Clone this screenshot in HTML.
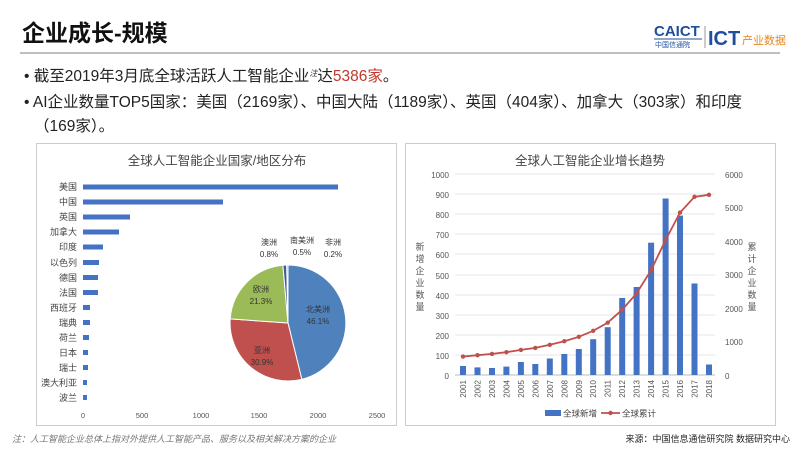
<!DOCTYPE html>
<html><head><meta charset="utf-8"><style>
body{margin:0;width:800px;height:450px;background:#fff;font-family:"Liberation Sans","Noto Sans CJK SC",sans-serif;overflow:hidden}
</style></head><body>
<svg width="800" height="450" xmlns="http://www.w3.org/2000/svg" font-family="Liberation Sans, Noto Sans CJK SC, sans-serif">
<text x="22" y="41" font-size="23" font-weight="bold" fill="#111">企业成长-规模</text>
<line x1="20" y1="53" x2="780" y2="53" stroke="#aaa" stroke-width="1.5"/>
<text x="654" y="36" font-size="15" font-weight="bold" fill="#1f4e9c">CAICT</text>
<line x1="654" y1="39" x2="702" y2="39" stroke="#1f4e9c"/>
<text x="655" y="47" font-size="7" fill="#1f4e9c">中国信通院</text>
<line x1="705" y1="26" x2="705" y2="48" stroke="#999"/>
<text x="708" y="45" font-size="20" font-weight="bold" fill="#1f4e9c">ICT</text>
<text x="742" y="44" font-size="11" fill="#e8871e">产业数据</text>
<g font-size="15.5" fill="#222">
<text x="24" y="81">• 截至2019年3月底全球活跃人工智能企业<tspan font-size="8" dy="-5" font-style="italic">注</tspan><tspan dy="5">达</tspan><tspan fill="#c0392b">5386家</tspan>。</text>
<text x="24" y="107">• AI企业数量TOP5国家：美国（2169家）、中国大陆（1189家）、英国（404家）、加拿大（303家）和印度</text>
<text x="34" y="131">（169家）。</text>
</g>
<rect x="36.5" y="143.5" width="360" height="282" fill="#fff" stroke="#ccc"/>
<rect x="405.5" y="143.5" width="370" height="282" fill="#fff" stroke="#ccc"/>
<text x="217" y="165" font-size="12.5" fill="#444" text-anchor="middle">全球人工智能企业国家/地区分布</text>
<g font-size="9" fill="#444" text-anchor="end">
<text x="77" y="190">美国</text><text x="77" y="205">中国</text><text x="77" y="220">英国</text><text x="77" y="235">加拿大</text><text x="77" y="250">印度</text><text x="77" y="266">以色列</text><text x="77" y="281">德国</text><text x="77" y="296">法国</text><text x="77" y="311">西班牙</text><text x="77" y="326">瑞典</text><text x="77" y="341">荷兰</text><text x="77" y="356">日本</text><text x="77" y="371">瑞士</text><text x="77" y="386">澳大利亚</text><text x="77" y="401">波兰</text>
</g>
<g fill="#4472c4">
<rect x="83" y="184.5" width="255" height="5"/><rect x="83" y="199.5" width="140" height="5"/><rect x="83" y="214.5" width="47" height="5"/><rect x="83" y="229.5" width="36" height="5"/><rect x="83" y="244.5" width="20" height="5"/><rect x="83" y="260" width="16" height="5"/><rect x="83" y="275" width="15" height="5"/><rect x="83" y="290" width="15" height="5"/><rect x="83" y="305" width="7" height="5"/><rect x="83" y="320" width="7" height="5"/><rect x="83" y="335" width="6" height="5"/><rect x="83" y="350" width="5" height="5"/><rect x="83" y="365" width="5" height="5"/><rect x="83" y="380" width="4" height="5"/><rect x="83" y="395" width="4" height="5"/>
</g>
<g font-size="7.5" fill="#555" text-anchor="middle">
<text x="83" y="418">0</text><text x="142" y="418">500</text><text x="201" y="418">1000</text><text x="259" y="418">1500</text><text x="318" y="418">2000</text><text x="377" y="418">2500</text>
</g>
<g stroke="#fff" stroke-width="1">
<path d="M288,323 L288,265 A58,58 0 0 1 301.8,379.3 Z" fill="#4f81bd"/>
<path d="M288,323 L301.8,379.3 A58,58 0 0 1 230.2,318.9 Z" fill="#c0504d"/>
<path d="M288,323 L230.2,318.9 A58,58 0 0 1 282.9,265.2 Z" fill="#9bbb59"/>
<path d="M288,323 L282.9,265.2 A58,58 0 0 1 286.7,265 Z" fill="#3e5d9a"/>
<path d="M288,323 L286.7,265 A58,58 0 0 1 288,265 Z" fill="#8064a2"/>
</g>
<g font-size="8" fill="#333" text-anchor="middle">
<text x="318" y="312">北美洲</text><text x="318" y="324">46.1%</text>
<text x="262" y="353">亚洲</text><text x="262" y="365">30.9%</text>
<text x="261" y="292">欧洲</text><text x="261" y="304">21.3%</text>
<text x="269" y="245">澳洲</text><text x="269" y="257">0.8%</text>
<text x="302" y="243">南美洲</text><text x="302" y="255">0.5%</text>
<text x="333" y="245">非洲</text><text x="333" y="257">0.2%</text>
</g>
<text x="590" y="165" font-size="12.5" fill="#444" text-anchor="middle">全球人工智能企业增长趋势</text>
<g stroke="#e4e4e4">
<line x1="455" y1="174" x2="715" y2="174"/><line x1="455" y1="194" x2="715" y2="194"/><line x1="455" y1="214" x2="715" y2="214"/><line x1="455" y1="234" x2="715" y2="234"/><line x1="455" y1="254" x2="715" y2="254"/><line x1="455" y1="275" x2="715" y2="275"/><line x1="455" y1="295" x2="715" y2="295"/><line x1="455" y1="315" x2="715" y2="315"/><line x1="455" y1="335" x2="715" y2="335"/><line x1="455" y1="355" x2="715" y2="355"/>
</g>
<line x1="455" y1="375" x2="715" y2="375" stroke="#bbb"/>
<g font-size="8" fill="#555" text-anchor="end">
<text x="449" y="178">1000</text><text x="449" y="198">900</text><text x="449" y="218">800</text><text x="449" y="238">700</text><text x="449" y="258">600</text><text x="449" y="279">500</text><text x="449" y="299">400</text><text x="449" y="319">300</text><text x="449" y="339">200</text><text x="449" y="359">100</text><text x="449" y="379">0</text>
</g>
<g font-size="8" fill="#555">
<text x="725" y="178">6000</text><text x="725" y="211">5000</text><text x="725" y="245">4000</text><text x="725" y="278">3000</text><text x="725" y="312">2000</text><text x="725" y="345">1000</text><text x="725" y="379">0</text>
</g>
<g font-size="9" fill="#555" text-anchor="middle">
<text x="420" y="250">新</text><text x="420" y="262">增</text><text x="420" y="274">企</text><text x="420" y="286">业</text><text x="420" y="298">数</text><text x="420" y="310">量</text>
<text x="752" y="250">累</text><text x="752" y="262">计</text><text x="752" y="274">企</text><text x="752" y="286">业</text><text x="752" y="298">数</text><text x="752" y="310">量</text>
</g>
<g fill="#4472c4">
<rect x="460" y="366" width="6" height="9"/><rect x="474.5" y="367.4" width="6" height="7.6"/><rect x="489" y="368" width="6" height="7"/><rect x="503.4" y="366.6" width="6" height="8.4"/><rect x="517.9" y="362" width="6" height="13"/><rect x="532.3" y="364" width="6" height="11"/><rect x="546.8" y="358.5" width="6" height="16.5"/><rect x="561.3" y="354" width="6" height="21"/><rect x="575.8" y="349" width="6" height="26"/><rect x="590.2" y="339.2" width="6" height="35.8"/><rect x="604.7" y="327.2" width="6" height="47.8"/><rect x="619.2" y="298" width="6" height="77"/><rect x="633.6" y="287" width="6" height="88"/><rect x="648.1" y="242.7" width="6" height="132.3"/><rect x="662.6" y="198.5" width="6" height="176.5"/><rect x="677" y="215.6" width="6" height="159.4"/><rect x="691.5" y="283.5" width="6" height="91.5"/><rect x="706" y="364.5" width="6" height="10.5"/>
</g>
<polyline fill="none" stroke="#c0504d" stroke-width="1.8" points="463,356.6 477.5,355.2 492,353.9 506.4,352.2 520.9,349.9 535.3,347.9 549.8,344.8 564.3,341.2 578.8,336.8 593.2,330.8 607.7,322.7 622.2,309.7 636.6,293.3 651.1,270.2 665.6,240 680,212.6 694.5,196.8 709,194.8"/>
<g fill="#c0504d">
<circle cx="463" cy="356.6" r="2.2"/><circle cx="477.5" cy="355.2" r="2.2"/><circle cx="492" cy="353.9" r="2.2"/><circle cx="506.4" cy="352.2" r="2.2"/><circle cx="520.9" cy="349.9" r="2.2"/><circle cx="535.3" cy="347.9" r="2.2"/><circle cx="549.8" cy="344.8" r="2.2"/><circle cx="564.3" cy="341.2" r="2.2"/><circle cx="578.8" cy="336.8" r="2.2"/><circle cx="593.2" cy="330.8" r="2.2"/><circle cx="607.7" cy="322.7" r="2.2"/><circle cx="622.2" cy="309.7" r="2.2"/><circle cx="636.6" cy="293.3" r="2.2"/><circle cx="651.1" cy="270.2" r="2.2"/><circle cx="665.6" cy="240" r="2.2"/><circle cx="680" cy="212.6" r="2.2"/><circle cx="694.5" cy="196.8" r="2.2"/><circle cx="709" cy="194.8" r="2.2"/>
</g>
<g font-size="8" fill="#555" text-anchor="end">
<text transform="translate(466,380) rotate(-90)">2001</text><text transform="translate(480.5,380) rotate(-90)">2002</text><text transform="translate(495,380) rotate(-90)">2003</text><text transform="translate(509.4,380) rotate(-90)">2004</text><text transform="translate(523.9,380) rotate(-90)">2005</text><text transform="translate(538.3,380) rotate(-90)">2006</text><text transform="translate(552.8,380) rotate(-90)">2007</text><text transform="translate(567.3,380) rotate(-90)">2008</text><text transform="translate(581.8,380) rotate(-90)">2009</text><text transform="translate(596.2,380) rotate(-90)">2010</text><text transform="translate(610.7,380) rotate(-90)">2011</text><text transform="translate(625.2,380) rotate(-90)">2012</text><text transform="translate(639.6,380) rotate(-90)">2013</text><text transform="translate(654.1,380) rotate(-90)">2014</text><text transform="translate(668.6,380) rotate(-90)">2015</text><text transform="translate(683,380) rotate(-90)">2016</text><text transform="translate(697.5,380) rotate(-90)">2017</text><text transform="translate(712,380) rotate(-90)">2018</text>
</g>
<rect x="545" y="410" width="16" height="6" fill="#4472c4"/>
<text x="563" y="416.5" font-size="8.5" fill="#444">全球新增</text>
<line x1="601" y1="413" x2="620" y2="413" stroke="#c0504d" stroke-width="1.8"/><circle cx="610.5" cy="413" r="2.2" fill="#c0504d"/>
<text x="622" y="416.5" font-size="8.5" fill="#444">全球累计</text>
<text x="12" y="442" font-size="9" fill="#777" font-style="italic">注：人工智能企业总体上指对外提供人工智能产品、服务以及相关解决方案的企业</text>
<text x="790" y="442" font-size="9" fill="#222" text-anchor="end">来源：中国信息通信研究院 数据研究中心</text>
</svg>
</body></html>
